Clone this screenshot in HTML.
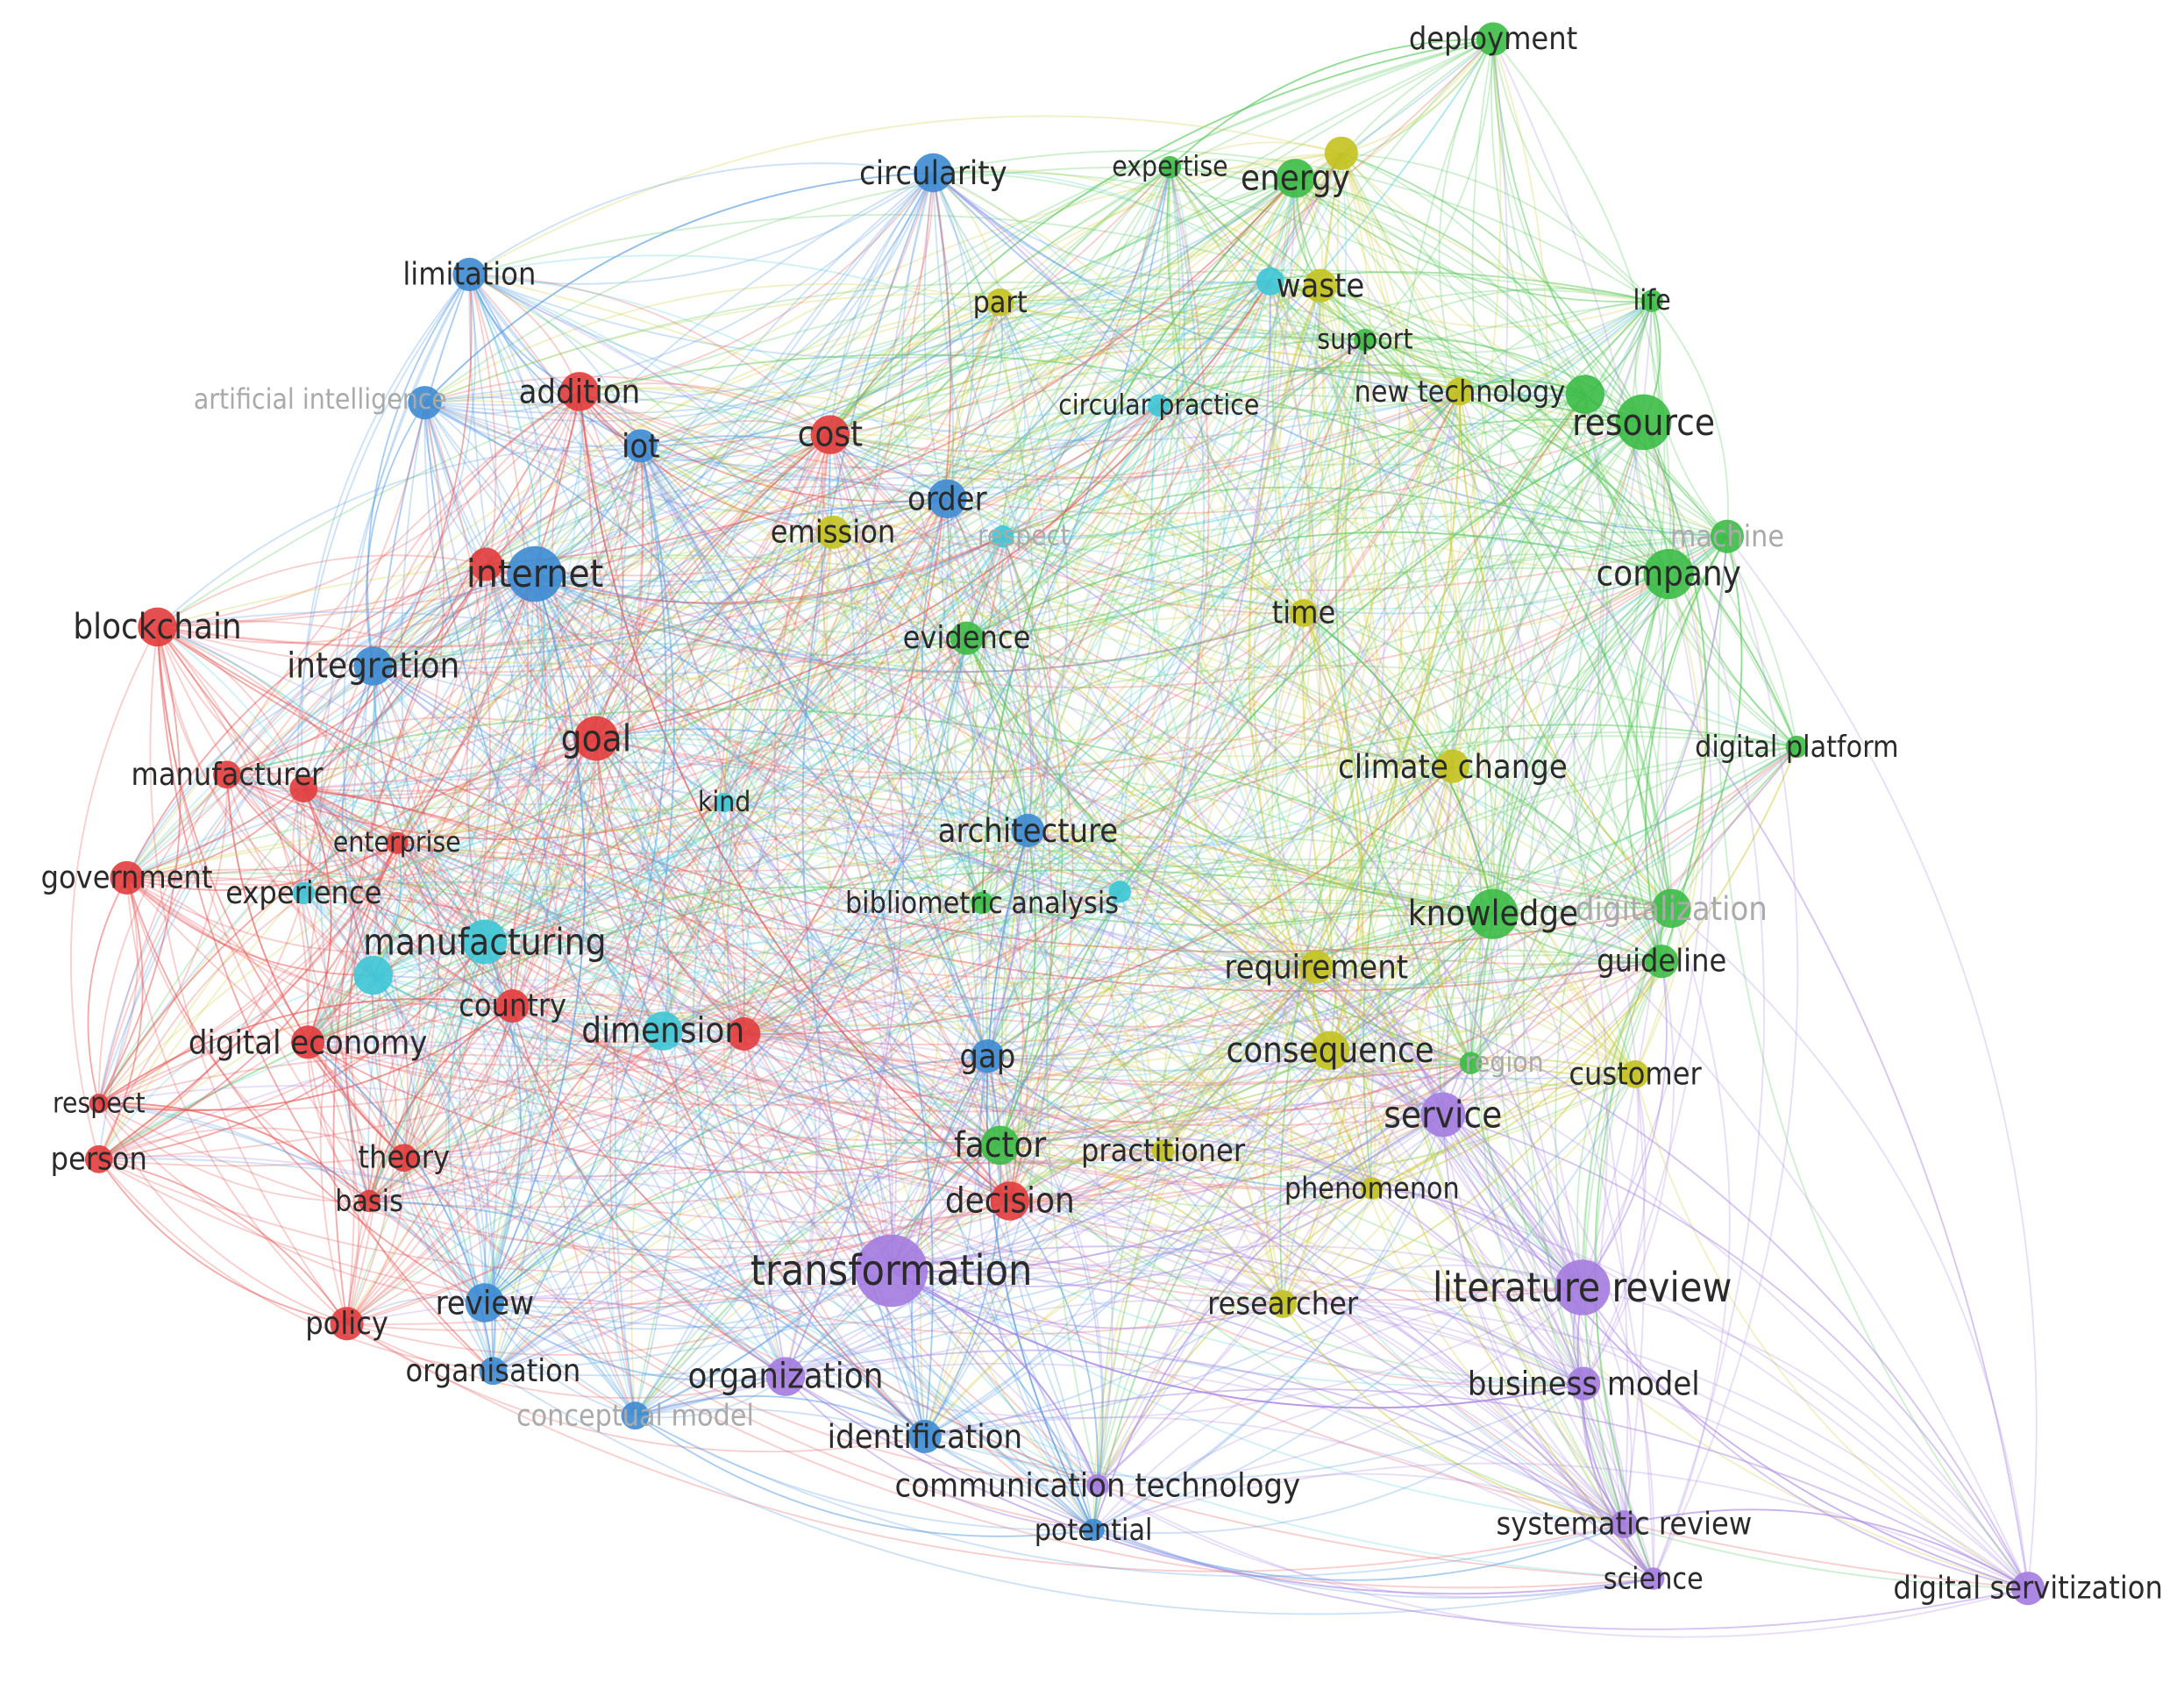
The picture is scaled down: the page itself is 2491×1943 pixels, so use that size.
<!DOCTYPE html>
<html><head><meta charset="utf-8">
<style>
html,body{margin:0;padding:0;background:#fff;}
svg{display:block;}
text{font-family:"DejaVu Sans Condensed","Liberation Sans",sans-serif;fill:#2a2a2a;text-anchor:middle;dominant-baseline:central;}
</style></head>
<body>
<svg id="s" width="2491" height="1943" viewBox="0 0 1568 1223" preserveAspectRatio="none" xmlns="http://www.w3.org/2000/svg">
<g id="edges" fill="none"></g>
<g id="nodes"></g>
<g id="labels"></g>
</svg>
<script>
var C={r:"#e8585a",b:"#5a9de0",g:"#5cc95f",y:"#cfcd3e",c:"#5fd0de",p:"#b08fe6"};
var NC={r:"#e23c3c",b:"#3d8bd3",g:"#3cbb46",y:"#c4c21f",c:"#3ec6d6",p:"#a47bdf"};
var N=[
["deployment",1072,28,"g",12,15],["expertise",840,120,"g",8,13],["energy",930,128,"g",14,17],["",963,110,"y",12,0],
["circularity",670,124,"b",14,16],["limitation",337,197,"b",12,15],["",912,202,"c",10,0],["waste",948,205,"y",12,16],
["life",1186,216,"g",8,13],["part",718,217,"y",10,14],["support",980,244,"g",8,13],["new technology",1048,281,"y",10,14],
["",1138,283,"g",14,0],["resource",1180,303,"g",20,18],["circular practice",832,291,"c",8,13],["",305,289,"b",12,0],
["addition",416,281,"r",14,16],["iot",460,320,"b",12,16],["cost",596,312,"r",14,17],["order",680,358,"b",14,16],
["emission",598,382,"y",12,15],["",720,385,"c",8,0],["",1240,385,"g",12,0],["internet",384,412,"b",20,19],
["",349,405,"r",12,0],["company",1198,412,"g",18,17],["blockchain",113,450,"r",14,17],["integration",268,478,"b",14,17],
["evidence",694,458,"g",12,15],["time",936,440,"y",10,15],["goal",428,530,"r",16,18],["manufacturer",163,556,"r",10,15],
["",218,566,"r",10,0],["kind",520,576,"c",7,13],["digital platform",1290,536,"g",8,14],["climate change",1043,550,"y",12,16],
["architecture",738,596,"b",12,16],["enterprise",285,605,"r",8,13],["government",91,630,"r",12,15],["experience",218,641,"c",8,15],
["bibliometric analysis",705,648,"g",8,14],["",804,640,"c",8,0],["knowledge",1072,656,"g",18,17],["",1200,652,"g",14,0],
["manufacturing",348,676,"c",16,18],["",268,700,"c",14,0],["requirement",945,694,"y",12,16],["guideline",1193,690,"g",12,15],
["country",368,722,"r",12,15],["dimension",476,740,"c",14,17],["",534,742,"r",12,0],["digital economy",221,748,"r",12,16],
["gap",709,758,"b",12,16],["consequence",955,754,"y",14,17],["",1056,763,"g",8,0],["customer",1174,771,"y",10,15],
["service",1036,800,"p",16,18],["respect",71,792,"r",7,13],["person",71,832,"r",10,15],["theory",290,831,"r",10,15],
["factor",718,822,"g",14,17],["practitioner",835,826,"y",8,15],["phenomenon",985,853,"y",8,14],["basis",265,862,"r",8,14],
["decision",725,862,"r",14,17],["transformation",640,912,"p",26,21],["literature review",1136,924,"p",20,20],["review",348,935,"b",14,16],
["researcher",921,936,"y",10,15],["policy",249,950,"r",12,15],["organisation",354,984,"b",10,15],["organization",564,988,"p",14,17],
["business model",1137,993,"p",12,16],["",456,1016,"b",10,0],["identification",664,1031,"b",12,16],["communication technology",788,1066,"p",8,16],
["potential",785,1098,"b",8,14],["systematic review",1166,1094,"p",10,15],["science",1187,1133,"p",8,14],["digital servitization",1456,1140,"p",12,15]
];
var faded=[["artificial intelligence",230,287,13],["respect",735,385,13],["machine",1240,385,14],["digitalization",1200,652,16],["region",1080,763,13],["conceptual model",456,1016,14]];
var seed=11;function rnd(){seed=(seed*16807)%2147483647;return seed/2147483647;}
var eg=document.getElementById("edges"),ng=document.getElementById("nodes"),lg=document.getElementById("labels");
var h="";
var n=N.length;
for(var i=0;i<n;i++){
  var a=N[i];var cnt=Math.round(a[4]*1.6+4);
  for(var k=0;k<cnt;k++){
    var j=-1;
    for(var t=0;t<8;t++){
      var jj=Math.floor(rnd()*n);if(jj==i)continue;
      var d=Math.hypot(N[jj][1]-a[1],N[jj][2]-a[2]);
      var p=Math.exp(-d/550)+(N[jj][3]==a[3]?0.5:0);
      if(rnd()<p){j=jj;break;}
    }
    if(j<0)continue;
    var b=N[j];
    var dx=b[1]-a[1],dy=b[2]-a[2];
    var mx=(a[1]+b[1])/2-dy*0.2,my=(a[2]+b[2])/2+dx*0.2;
    var col=C[a[3]];
    h+='<path d="M'+a[1]+' '+a[2]+'Q'+mx.toFixed(1)+' '+my.toFixed(1)+' '+b[1]+' '+b[2]+'" stroke="'+col+'" stroke-opacity="0.3" stroke-width="1.15"/>';
  }
}
eg.innerHTML=h;
function fs(s){return (s*1.3+3).toFixed(1);}
var nh="",lh="";
for(var i=0;i<n;i++){var a=N[i];
 nh+='<circle cx="'+a[1]+'" cy="'+a[2]+'" r="'+a[4]+'" fill="'+NC[a[3]]+'" fill-opacity="0.9"/>';
 if(a[0])lh+='<text x="'+a[1]+'" y="'+a[2]+'" font-size="'+fs(a[5])+'">'+a[0]+'</text>';
}
for(var f of faded){lh+='<text x="'+f[1]+'" y="'+f[2]+'" font-size="'+fs(f[3])+'" style="fill:#aaa">'+f[0]+'</text>';}
ng.innerHTML=nh;lg.innerHTML=lh;
</script>
</body></html>
